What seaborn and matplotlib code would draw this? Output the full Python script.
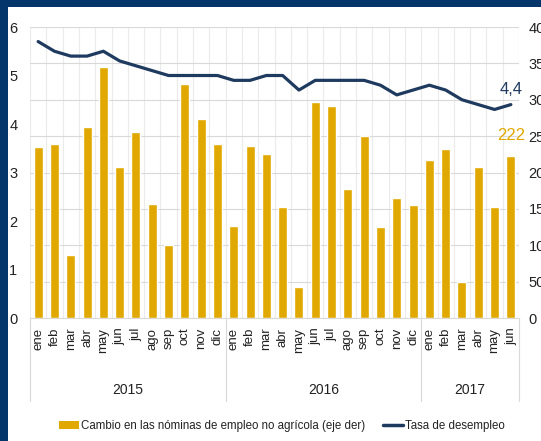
import numpy as np
import pandas as pd
import matplotlib
matplotlib.use('Agg')
import matplotlib.pyplot as plt
import matplotlib.transforms as mtransforms
from matplotlib.patches import Patch, Rectangle
from matplotlib.lines import Line2D
import seaborn as sns

# Datos
anios = ['2015', '2016', '2017']
meses_por_anio = [12, 12, 6]
meses = ['ene', 'feb', 'mar', 'abr', 'may', 'jun', 'jul', 'ago', 'sep', 'oct', 'nov', 'dic',
         'ene', 'feb', 'mar', 'abr', 'may', 'jun', 'jul', 'ago', 'sep', 'oct', 'nov', 'dic',
         'ene', 'feb', 'mar', 'abr', 'may', 'jun']

# Cambio en las nóminas de empleo no agrícola (miles, eje der)
nominas = [235, 239, 87, 263, 345, 207, 255, 157, 100, 322, 273, 239,
           126, 237, 225, 153, 43, 297, 292, 177, 250, 125, 165, 155,
           217, 232, 50, 207, 152, 222]

# Tasa de desempleo (%, eje izq)
desempleo = [5.7, 5.5, 5.4, 5.4, 5.5, 5.3, 5.2, 5.1, 5.0, 5.0, 5.0, 5.0,
             4.9, 4.9, 5.0, 5.0, 4.7, 4.9, 4.9, 4.9, 4.9, 4.8, 4.6, 4.7,
             4.8, 4.7, 4.5, 4.4, 4.3, 4.4]

anio_col = [a for a, n in zip(anios, meses_por_anio) for _ in range(n)]
df = pd.DataFrame({
    'periodo': [f'{m}-{a}' for m, a in zip(meses, anio_col)],
    'pos': np.arange(len(meses)),
    'nominas': nominas,
    'desempleo': desempleo,
})

azul = '#04356b'
dorado = '#e0a800'
linea = '#1f3a5f'
gris = '#d9d9d9'
texto = '#222222'

sns.set_style('white')
plt.rcParams['font.family'] = ['Liberation Sans', 'DejaVu Sans']

fig = plt.figure(figsize=(5.41, 4.41), dpi=100, facecolor=azul)
fig.add_artist(Rectangle((8 / 541, 0), 1, (441 - 7) / 441, transform=fig.transFigure,
                         facecolor='white', edgecolor='none', zorder=0))

ax = fig.add_axes([30 / 541, 123 / 441, 489 / 541, 291 / 441])
ax.set_facecolor('white')

# barras en el eje principal (escala derecha)
sns.barplot(data=df, x='periodo', y='nominas', ax=ax, color=dorado,
            saturation=1, width=0.55, zorder=2)
ax.set_xlabel('')
ax.set_ylabel('')

# línea en el eje secundario (escala izquierda)
ax2 = ax.twinx()
sns.lineplot(data=df, x='pos', y='desempleo', ax=ax2, color=linea, lw=2.3)
ax2.set_ylabel('')
ax2.set_xlabel('')

ax.set_ylim(0, 400)
ax.set_yticks(range(0, 401, 50))
ax.yaxis.tick_right()
ax2.set_ylim(0, 6)
ax2.set_yticks(range(0, 7))
ax2.yaxis.tick_left()
ax.set_xlim(-0.5, len(meses) - 0.5)

for a in (ax, ax2):
    for s in a.spines.values():
        s.set_visible(False)
ax.spines['bottom'].set_visible(True)
ax.spines['bottom'].set_color(gris)

ax.tick_params(axis='y', which='both', length=0, pad=7, labelsize=10.5, labelcolor=texto,
               left=False, labelleft=False, right=False, labelright=True)
ax2.tick_params(axis='y', which='both', length=0, pad=9, labelsize=10.5, labelcolor=texto,
                right=False, labelright=False, left=False, labelleft=True)

ax.set_xticks(df['pos'])
ax.set_xticklabels(meses, rotation=90, fontsize=9.5, color=texto)
ax.tick_params(axis='x', length=0, pad=7)

# rejilla
ax.set_xticks(np.arange(-0.5, len(meses), 1), minor=True)
ax.tick_params(axis='x', which='minor', length=0)
ax.grid(axis='y', color=gris, lw=0.8)
ax.grid(axis='x', which='minor', color='#ebebeb', lw=0.8)
ax.grid(axis='x', which='major', visible=False)
ax.set_axisbelow(True)

# separadores y etiquetas de año
trans = mtransforms.blended_transform_factory(ax.transData, ax.transAxes)
bordes = np.concatenate([[0], np.cumsum(meses_por_anio)]) - 0.5
for xb in bordes:
    ax.plot([xb, xb], [0, -0.285], transform=trans, clip_on=False, color=gris, lw=0.8)
for anio, ini, fin in zip(anios, bordes[:-1], bordes[1:]):
    ax.text((ini + fin) / 2, -0.247, anio, transform=trans, ha='center', va='center',
            fontsize=10, color=texto)

# etiquetas de los últimos valores
ax2.annotate(f'{desempleo[-1]:.1f}'.replace('.', ','), xy=(df['pos'].iloc[-1], desempleo[-1]),
             xytext=(0, 11), textcoords='offset points', ha='center', va='center',
             fontsize=12, color=linea)
ax.annotate(f'{nominas[-1]}', xy=(df['pos'].iloc[-1], nominas[-1]),
            xytext=(0, 15), textcoords='offset points', ha='center', va='center',
            fontsize=12, color=dorado)

handles = [Patch(facecolor=dorado, edgecolor='none'),
           Line2D([0], [0], color=linea, lw=2.5)]
fig.legend(handles, ['Cambio en las nóminas de empleo no agrícola (eje der)', 'Tasa de desempleo'],
           loc='center', bbox_to_anchor=(0.521, 0.034), ncol=2, frameon=False,
           fontsize=8.3, handlelength=1.7, handleheight=0.7, handletextpad=0.15,
           columnspacing=1.6, labelcolor=texto)

fig.savefig('out.png', dpi=100, facecolor=azul)
